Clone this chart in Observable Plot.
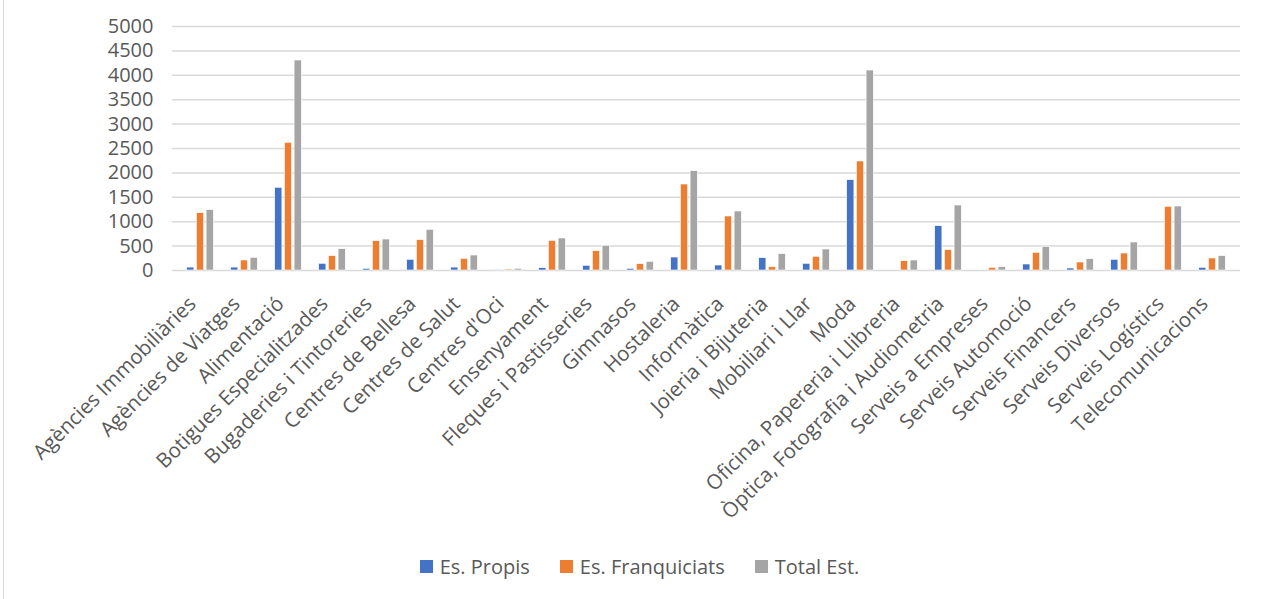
<!DOCTYPE html>
<html>
<head>
<meta charset="utf-8">
<script src="https://cdn.jsdelivr.net/npm/d3@7"></script>
<script src="https://cdn.jsdelivr.net/npm/@observablehq/plot@0.6"></script>
<style>
  html, body { margin: 0; padding: 0; background: #fff; }
  #wrap { width: 1267px; height: 599px; position: relative; font-family: "Open Sans", "Noto Sans", sans-serif; }
  #frame { position: absolute; left: 3px; top: 0; width: 1px; height: 599px; background: #d9d9d9; }
  #chart { position: absolute; left: 0; top: 0; }
  #legend { position: absolute; left: 0; top: 553px; width: 1267px; display: flex; justify-content: center; gap: 30px; font-size: 20px; color: #595959; padding-left: 12px; box-sizing: border-box; }
  #legend .item { display: flex; align-items: center; gap: 7px; }
  #legend .sw { width: 13px; height: 13px; display: inline-block; }
</style>
</head>
<body>
<div id="wrap"><div id="frame"></div><div id="chart"></div><div id="legend"></div></div>
<script>
const categories = [
  "Agències Immobiliàries", "Agències de Viatges", "Alimentació", "Botigues Especialitzades",
  "Bugaderies i Tintoreries", "Centres de Bellesa", "Centres de Salut", "Centres d'Oci",
  "Ensenyament", "Fleques i Pastisseries", "Gimnasos", "Hostaleria", "Informàtica",
  "Joieria i Bijuteria", "Mobiliari i Llar", "Moda", "Oficina, Papereria i Llibreria",
  "Òptica, Fotografia i Audiometria", "Serveis a Empreses", "Serveis Automoció",
  "Serveis Financers", "Serveis Diversos", "Serveis Logístics", "Telecomunicacions"
];
const propis = [60, 60, 1695, 137, 34, 219, 60, 5, 48, 96, 34, 266, 102, 253, 137, 1851, 0, 908, 0, 123, 41, 219, 0, 55];
const franquiciats = [1175, 205, 2616, 294, 601, 622, 239, 20, 608, 396, 130, 1762, 1107, 68, 280, 2234, 191, 417, 55, 362, 164, 348, 1305, 246];
const totalEst = [1236, 260, 4303, 437, 635, 833, 307, 35, 656, 505, 178, 2035, 1209, 335, 430, 4098, 205, 1332, 68, 478, 232, 574, 1311, 294];
const seriesNames = ["Es. Propis", "Es. Franquiciats", "Total Est."];
const seriesColors = ["#4472C4", "#ED7D31", "#A5A5A5"];
const yTicks = [0, 500, 1000, 1500, 2000, 2500, 3000, 3500, 4000, 4500, 5000];

const seriesValues = [propis, franquiciats, totalEst];
const tables = seriesNames.map((s, k) =>
  categories.map((c, i) => ({cat: c, series: s, value: seriesValues[k][i]})));

// each category band is split into three bars of a cluster
const band = 1068 / categories.length;
const barW = 7.7, barStep = 9.7;
const groupStart = (band - (2 * barStep + barW)) / 2;

const chart = Plot.plot({
  width: 1267,
  height: 540,
  marginLeft: 172,
  marginRight: 27,
  marginTop: 26,
  marginBottom: 270,
  style: {fontFamily: "'Open Sans', 'Noto Sans', sans-serif", color: "#595959", background: "transparent"},
  x: {domain: categories, padding: 0, label: null},
  y: {domain: [0, 5000], label: null},
  color: {domain: seriesNames, range: seriesColors},
  marks: [
    Plot.ruleY(yTicks, {stroke: "#d9d9d9", strokeWidth: 1.5}),
    Plot.axisY(yTicks, {tickSize: 0, tickPadding: 19, fontSize: 20, label: null, fill: "#595959", tickFormat: d => String(d)}),
    ...tables.map((t, k) => {
      const left = groupStart + k * barStep;
      return Plot.barY(t, {x: "cat", y: "value", fill: "series", stroke: "#fff", strokeWidth: 0.6,
        insetLeft: left, insetRight: band - left - barW});
    }),
    Plot.axisX({tickRotate: -45, tickSize: 0, tickPadding: 30, dx: -8, fontSize: 20.5, label: null, fill: "#595959"})
  ]
});
document.getElementById("chart").appendChild(chart);

const legend = document.getElementById("legend");
seriesNames.forEach((s, k) => {
  const item = document.createElement("div");
  item.className = "item";
  const sw = document.createElement("span");
  sw.className = "sw";
  sw.style.background = seriesColors[k];
  const t = document.createElement("span");
  t.textContent = s;
  item.appendChild(sw);
  item.appendChild(t);
  legend.appendChild(item);
});
</script>
</body>
</html>
